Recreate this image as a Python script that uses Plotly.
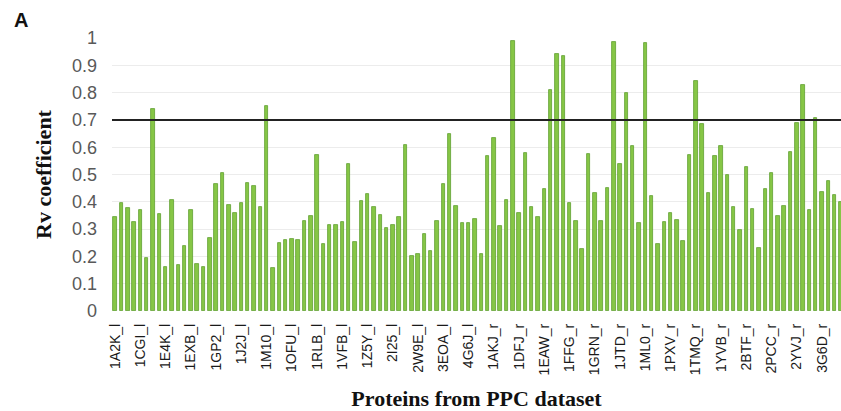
import plotly.graph_objects as go

rv_values = [
    0.344, 0.394, 0.376, 0.326, 0.369, 0.193, 0.741, 0.354, 0.160, 0.408,
    0.170, 0.238, 0.371, 0.173, 0.162, 0.268, 0.466, 0.504, 0.388, 0.360,
    0.397, 0.468, 0.459, 0.380, 0.751, 0.157, 0.248, 0.259, 0.264, 0.261,
    0.331, 0.349, 0.570, 0.247, 0.315, 0.314, 0.327, 0.537, 0.254, 0.404,
    0.430, 0.381, 0.353, 0.304, 0.316, 0.343, 0.607, 0.203, 0.209, 0.281,
    0.219, 0.331, 0.466, 0.650, 0.386, 0.322, 0.322, 0.336, 0.210, 0.569,
    0.635, 0.310, 0.408, 0.990, 0.360, 0.580, 0.380, 0.343, 0.448, 0.810,
    0.940, 0.934, 0.397, 0.328, 0.226, 0.575, 0.432, 0.330, 0.450, 0.984,
    0.540, 0.800, 0.603, 0.323, 0.980, 0.420, 0.245, 0.325, 0.359, 0.333,
    0.255, 0.571, 0.844, 0.684, 0.432, 0.569, 0.604, 0.500, 0.380, 0.298,
    0.526, 0.375, 0.231, 0.447, 0.507, 0.349, 0.386, 0.584, 0.687, 0.829,
    0.371, 0.707, 0.436, 0.477, 0.426, 0.400,
]

tick_labels = [
    "1A2K_l", "1CGI_l", "1E4K_l", "1EXB_l", "1GP2_l", "1J2J_l", "1M10_l",
    "1OFU_l", "1RLB_l", "1VFB_l", "1Z5Y_l", "2I25_l", "2W9E_l", "3EOA_l",
    "4G6J_l", "1AKJ_r", "1DFJ_r", "1EAW_r", "1FFG_r", "1GRN_r", "1JTD_r",
    "1ML0_r", "1PXV_r", "1TMQ_r", "1YVB_r", "2BTF_r", "2PCC_r", "2YVJ_r",
    "3G6D_r",
]
label_step = 4
threshold = 0.7

x_idx = list(range(len(rv_values)))
tick_vals = [i * label_step for i in range(len(tick_labels))]

fig = go.Figure()
fig.add_trace(go.Bar(
    x=x_idx, y=rv_values, width=0.55,
    marker=dict(color="#86C646", line=dict(color="#5F9E30", width=0.8)),
    hoverinfo="y",
))

fig.add_shape(type="line", xref="paper", x0=0, x1=1, yref="y",
              y0=threshold, y1=threshold,
              line=dict(color="#222222", width=2))

fig.update_layout(
    width=841, height=411,
    margin=dict(l=112, r=0, t=38, b=100),
    paper_bgcolor="white", plot_bgcolor="white",
    showlegend=False,
    bargap=0,
    xaxis=dict(
        range=[-0.5, 115.0],
        tickmode="array", tickvals=tick_vals, ticktext=tick_labels,
        tickangle=-90,
        tickfont=dict(family="Liberation Sans, Arial", size=14, color="#1a1a1a"),
        showgrid=False, zeroline=False, showline=False,
        ticks="", ticklabelstandoff=9,
        title=dict(text="<b>Proteins from PPC dataset</b>",
                   font=dict(family="Liberation Serif, Times New Roman", size=22, color="#111111"),
                   standoff=16),
    ),
    yaxis=dict(
        range=[0, 1.0], dtick=0.1,
        tickformat="~g",
        tickfont=dict(family="Liberation Sans, Arial", size=18, color="#595959"),
        showgrid=True, gridcolor="#ececec", gridwidth=1,
        zeroline=False, showline=False, ticks="",
        ticklabelstandoff=14,
        title=dict(text="<b>Rv coefficient</b>",
                   font=dict(family="Liberation Serif, Times New Roman", size=22, color="#111111"),
                   standoff=14),
    ),
    annotations=[dict(text="<b>A</b>", xref="paper", yref="paper",
                      x=-100/729, y=1 + 18/273, xanchor="left", yanchor="middle",
                      showarrow=False,
                      font=dict(family="Liberation Sans, Arial", size=20, color="#111111"))],
)

fig.write_html("out.html")
